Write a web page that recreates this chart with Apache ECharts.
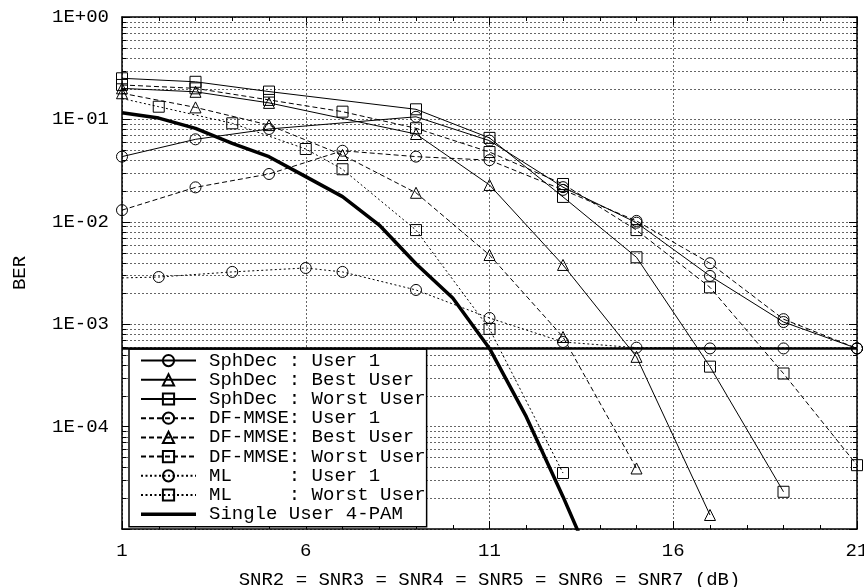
<!DOCTYPE html>
<html><head><meta charset="utf-8">
<script src="https://cdn.jsdelivr.net/npm/echarts@6/dist/echarts.min.js"></script>
<style>html,body{margin:0;padding:0;background:#fff}#c{width:864px;height:587px}</style>
</head><body><div id="c"></div>
<script>
// ---- data ----
const sphUser1X  = [1, 3, 5, 9, 11, 13, 15, 17, 19, 21];
const sphUser1   = [0.0433, 0.0639, 0.0806, 0.106, 0.062, 0.0218, 0.0098, 2.96e-3, 1.05e-3, 5.8e-4];
const sphBestX   = [1, 3, 5, 9, 11, 13, 15, 17];
const sphBest    = [0.201, 0.186, 0.145, 0.072, 0.0229, 3.79e-3, 4.8e-4, 1.37e-5];
const sphWorstX  = [1, 3, 5, 9, 11, 13, 15, 17, 19];
const sphWorst   = [0.252, 0.233, 0.187, 0.1255, 0.066, 0.0175, 4.5e-3, 3.85e-4, 2.31e-5];
const dfUser1X   = [1, 3, 5, 7, 9, 11, 13, 15, 17, 19, 21];
const dfUser1    = [0.013, 0.0217, 0.0293, 0.0494, 0.0433, 0.040, 0.0205, 0.0102, 3.94e-3, 1.12e-3, 5.8e-4];
const dfBestX    = [1, 3, 5, 7, 9, 11, 13, 15];
const dfBest     = [0.18, 0.131, 0.088, 0.0449, 0.0192, 4.74e-3, 7.5e-4, 3.9e-5];
const dfWorstX   = [1, 3, 5, 7, 9, 11, 13, 15, 17, 19, 21];
const dfWorst    = [0.217, 0.201, 0.155, 0.119, 0.0819, 0.048, 0.0234, 8.3e-3, 2.29e-3, 3.3e-4, 4.2e-5];
const mlUser1X   = [1, 2, 4, 6, 7, 9, 11, 13, 15, 17, 19, 21];
const mlUser1    = [2.83e-3, 2.89e-3, 3.24e-3, 3.54e-3, 3.24e-3, 2.16e-3, 1.15e-3, 6.7e-4, 5.9e-4, 5.8e-4, 5.8e-4, 5.8e-4];
const mlWorstX   = [1, 2, 4, 6, 7, 9, 11, 13];
const mlWorst    = [0.16, 0.133, 0.0916, 0.0514, 0.0326, 8.3e-3, 9.0e-4, 3.52e-5];
const pamX       = [1, 2, 3, 4, 5, 6, 7, 8, 9, 10, 11, 12, 13, 13.5];
const pam        = [0.116, 0.103, 0.0818, 0.0584, 0.0432, 0.0276, 0.0176, 9.3e-3, 3.9e-3, 1.8e-3, 5.8e-4, 1.25e-4, 2.07e-5, 8e-6];
const floorX     = [1, 21];
const floorY     = [5.8e-4, 5.8e-4];
const noMarkerX  = 1;   // ML curves start at x=1 without a marker

const names = ['SphDec : User 1', 'SphDec : Best User', 'SphDec : Worst User',
               'DF-MMSE: User 1', 'DF-MMSE: Best User', 'DF-MMSE: Worst User',
               'ML     : User 1', 'ML     : Worst User', 'Single User 4-PAM'];

// axis ticks
const xMin = 1, xMax = 21, xInterval = 5;
const yMin = 1e-5, yMax = 1;
const minorMantissas = [2, 3, 4, 5, 6, 7, 8, 9];
const decades = [1e-5, 1e-4, 1e-3, 1e-2, 1e-1];

const FONT = 'Liberation Mono';
const DASH = [5, 3];
const DOT = [2, 2.5];

function pairs(xs, ys, skipFirstMarker) {
  return xs.map((x, i) => {
    if (skipFirstMarker && x === noMarkerX) return { value: [x, ys[i]], symbol: 'none' };
    return [x, ys[i]];
  });
}
function mk(name, xs, ys, symbol, dash, skip) {
  return {
    name: name, type: 'line', data: pairs(xs, ys, skip),
    symbol: symbol, symbolSize: 11, showSymbol: true,
    itemStyle: { color: 'transparent', borderColor: '#000', borderWidth: 1 },
    lineStyle: { color: '#000', width: 1, type: dash },
    emphasis: { disabled: true }, animation: false, z: 3
  };
}

const minorVals = [];
decades.forEach(d => minorMantissas.forEach(m => minorVals.push(+(m * d).toPrecision(3))));

const chart = echarts.init(document.getElementById('c'), null, { renderer: 'canvas' });
const axisLineStyle = { color: '#000', width: 1.5 };
const gridLineStyle = { color: '#666', width: 1, type: [2, 2] };

const legendData = names.map((n, i) => i === 8
  ? { name: n, icon: 'path://M0,0L55,0L55,3.5L0,3.5Z', itemStyle: { color: '#000', borderWidth: 0 } }
  : n);

chart.setOption({
  animation: false,
  backgroundColor: '#fff',
  grid: { left: 122, right: 7, top: 17, bottom: 58, containLabel: false, outerBoundsMode: 'none' },
  xAxis: [{
    type: 'value', min: xMin, max: xMax, interval: xInterval, position: 'bottom',
    axisLine: { show: true, onZero: false, lineStyle: axisLineStyle },
    axisTick: { show: true, inside: true, length: 8, lineStyle: { color: '#000', width: 1 } },
    minorTick: { show: true, splitNumber: 5, length: 4, lineStyle: { color: '#000', width: 1 } },
    splitLine: { show: true, lineStyle: gridLineStyle },
    axisLabel: { fontFamily: FONT, fontSize: 19, color: '#000', margin: 12 },
    name: 'SNR2 = SNR3 = SNR4 = SNR5 = SNR6 = SNR7 (dB)', nameLocation: 'middle', nameGap: 41,
    nameTextStyle: { fontFamily: FONT, fontSize: 19, color: '#000' }
  }, {
    type: 'value', min: xMin, max: xMax, interval: xInterval, position: 'top',
    axisLine: { show: true, onZero: false, lineStyle: axisLineStyle },
    axisTick: { show: true, inside: true, length: 8, lineStyle: { color: '#000', width: 1 } },
    minorTick: { show: true, splitNumber: 5, length: 4, lineStyle: { color: '#000', width: 1 } },
    splitLine: { show: false }, axisLabel: { show: false }
  }],
  yAxis: [{
    type: 'log', logBase: 10, min: yMin, max: yMax, position: 'left',
    axisLine: { show: true, onZero: false, lineStyle: axisLineStyle },
    axisTick: { show: true, inside: true, length: 8, lineStyle: { color: '#000', width: 1 } },
    splitLine: { show: true, lineStyle: gridLineStyle },
    axisLabel: {
      fontFamily: FONT, fontSize: 19, color: '#000', margin: 13,
      formatter: function (v) {
        const e = Math.round(Math.log10(v));
        if (e <= -5) return '';
        const a = Math.abs(e);
        return '1E' + (e >= 0 ? '+' : '-') + (a < 10 ? '0' : '') + a;
      }
    },
    name: 'BER', nameLocation: 'middle', nameGap: 93, nameRotate: 90,
    nameTextStyle: { fontFamily: FONT, fontSize: 19, color: '#000' }
  }, {
    type: 'log', logBase: 10, min: yMin, max: yMax, position: 'right',
    axisLine: { show: true, onZero: false, lineStyle: axisLineStyle },
    axisTick: { show: true, inside: true, length: 8, lineStyle: { color: '#000', width: 1 } },
    splitLine: { show: false }, axisLabel: { show: false }
  }],
  legend: {
    orient: 'vertical', left: 129, top: 349,
    itemWidth: 55, itemHeight: 14, itemGap: 0,
    padding: [2, 1, 3, 11],
    backgroundColor: '#fff', borderColor: '#000', borderWidth: 1.5, borderRadius: 0,
    selectedMode: false,
    textStyle: { fontFamily: FONT, fontSize: 19, color: '#000', lineHeight: 19.2, padding: [0, 0, 0, 8] },
    data: legendData
  },
  series: [
    {
      type: 'custom', name: 'minorGrid', silent: true, z: 1, clip: false,
      data: minorVals.map(v => [xMin, v]),
      renderItem: function (params, api) {
        const v = api.value(1);
        const p1 = api.coord([xMin, v]);
        const p2 = api.coord([xMax, v]);
        const y = Math.round(p1[1]) + 0.5;
        return {
          type: 'group', children: [
            { type: 'line', shape: { x1: p1[0], y1: y, x2: p2[0], y2: y }, style: { stroke: '#666', lineWidth: 1, lineDash: [2, 2] } },
            { type: 'line', shape: { x1: p1[0], y1: y, x2: p1[0] + 4, y2: y }, style: { stroke: '#000', lineWidth: 1 } },
            { type: 'line', shape: { x1: p2[0] - 4, y1: y, x2: p2[0], y2: y }, style: { stroke: '#000', lineWidth: 1 } }
          ]
        };
      }
    },
    mk(names[0], sphUser1X, sphUser1, 'circle', 'solid'),
    mk(names[1], sphBestX, sphBest, 'triangle', 'solid'),
    mk(names[2], sphWorstX, sphWorst, 'rect', 'solid'),
    mk(names[3], dfUser1X, dfUser1, 'circle', DASH),
    mk(names[4], dfBestX, dfBest, 'triangle', DASH),
    mk(names[5], dfWorstX, dfWorst, 'rect', DASH),
    mk(names[6], mlUser1X, mlUser1, 'circle', DOT, true),
    mk(names[7], mlWorstX, mlWorst, 'rect', DOT, true),
    {
      name: names[8], type: 'line', data: pairs(pamX, pam), symbol: 'none',
      lineStyle: { color: '#000', width: 3.5, type: 'solid' }, itemStyle: { color: '#000' },
      emphasis: { disabled: true }, z: 4, smooth: false
    },
    {
      name: 'floor', type: 'line', data: pairs(floorX, floorY), symbol: 'none', silent: true,
      lineStyle: { color: '#000', width: 2.5 }, itemStyle: { color: '#000' }, z: 4
    }
  ]
});
</script>
</body></html>
